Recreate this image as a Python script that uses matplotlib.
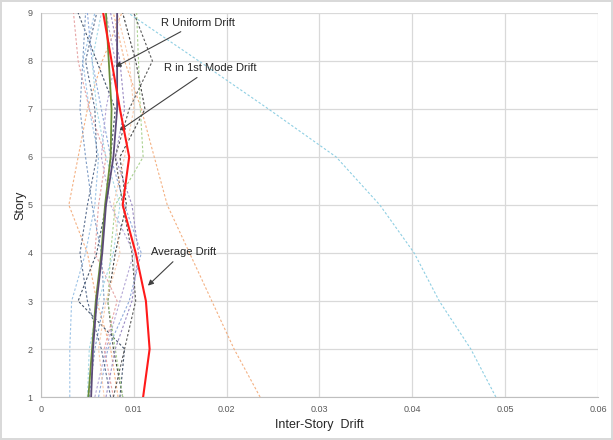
import matplotlib
matplotlib.use("Agg")
import matplotlib.pyplot as plt

stories = [1, 2, 3, 4, 5, 6, 7, 8, 9]

# Individual ground-motion drifts (dashed), stories 1..9
gm_colors = ["#9DC3E6", "#F4B183", "#F4B183", "#8FCFE3", "#404040", "#44546A",
             "#8EA9DB", "#B4A7D6", "#A9D18E", "#E6A3A3", "#7F9CC5", "#5A6E8F",
             "#A5D8E6", "#9B8BC4", "#595959", "#F8CBAD"]
gm_drifts = [
    [0.0031, 0.0031, 0.0033, 0.0048, 0.0058, 0.0062, 0.0052, 0.0045, 0.0058],
    [0.0083, 0.0075, 0.0060, 0.0050, 0.0030, 0.0040, 0.0050, 0.0066, 0.0087],
    [0.0236, 0.0208, 0.0184, 0.0160, 0.0136, 0.0122, 0.0108, 0.0090, 0.0078],
    [0.0490, 0.0463, 0.0429, 0.0402, 0.0365, 0.0318, 0.0245, 0.0170, 0.0094],
    [0.0088, 0.0078, 0.0072, 0.0080, 0.0092, 0.0085, 0.0112, 0.0102, 0.0088],
    [0.0085, 0.0090, 0.0040, 0.0060, 0.0070, 0.0075, 0.0080, 0.0060, 0.0040],
    [0.0062, 0.0072, 0.0095, 0.0108, 0.0090, 0.0075, 0.0065, 0.0055, 0.0050],
    [0.0058, 0.0070, 0.0085, 0.0100, 0.0075, 0.0065, 0.0070, 0.0080, 0.0070],
    [0.0088, 0.0080, 0.0072, 0.0075, 0.0080, 0.0110, 0.0107, 0.0105, 0.0103],
    [0.0078, 0.0068, 0.0082, 0.0058, 0.0062, 0.0070, 0.0052, 0.0040, 0.0035],
    [0.0052, 0.0058, 0.0068, 0.0065, 0.0055, 0.0048, 0.0042, 0.0045, 0.0048],
    [0.0075, 0.0065, 0.0050, 0.0042, 0.0050, 0.0060, 0.0058, 0.0048, 0.0060],
    [0.0050, 0.0052, 0.0062, 0.0078, 0.0085, 0.0070, 0.0060, 0.0055, 0.0065],
    [0.0070, 0.0080, 0.0098, 0.0105, 0.0098, 0.0080, 0.0090, 0.0085, 0.0075],
    [0.0078, 0.0090, 0.0102, 0.0098, 0.0088, 0.0080, 0.0095, 0.0120, 0.0100],
    [0.0068, 0.0062, 0.0070, 0.0085, 0.0078, 0.0090, 0.0100, 0.0095, 0.0082],
]

average_drift = [0.0110, 0.0117, 0.0113, 0.0102, 0.0088, 0.0095, 0.0085, 0.0076, 0.0067]
r_uniform = [0.0051, 0.0055, 0.0059, 0.0065, 0.0069, 0.0075, 0.0076, 0.0073, 0.0070]
r_first_mode = [0.0054, 0.0056, 0.0060, 0.0066, 0.0070, 0.0078, 0.0082, 0.0082, 0.0082]

x_ticks = [0, 0.01, 0.02, 0.03, 0.04, 0.05, 0.06]
x_tick_labels = ["0", "0.01", "0.02", "0.03", "0.04", "0.05", "0.06"]

plt.rcParams['font.family'] = ['Liberation Sans', 'DejaVu Sans']

fig = plt.figure(figsize=(6.13, 4.40), dpi=100)
fig.patch.set_edgecolor("#D9D9D9")
fig.patch.set_linewidth(1.5)
ax = fig.add_axes([0.0669, 0.0977, 0.9086, 0.8728])

for c, d in zip(gm_colors, gm_drifts):
    ax.plot(d, stories, color=c, lw=0.8, ls=(0, (2.2, 1.8)), zorder=2)

ax.plot(r_uniform, stories, color="#6B8E3A", lw=1.3, zorder=3)
ax.plot(r_first_mode, stories, color="#5C4A78", lw=1.3, zorder=3)
ax.plot(average_drift, stories, color="#FF1A1A", lw=1.5, zorder=4)

ax.set_xlim(0, 0.06)
ax.set_ylim(1, 9)
ax.set_xticks(x_ticks)
ax.set_xticklabels(x_tick_labels)
ax.set_yticks(stories)
ax.grid(True, color="#D9D9D9", lw=0.9)
ax.set_axisbelow(True)
for s in ["top", "right"]:
    ax.spines[s].set_visible(False)
for s in ["left", "bottom"]:
    ax.spines[s].set_color("#BFBFBF")
ax.tick_params(length=0, labelsize=6.5, colors="#595959", pad=6)

ax.set_xlabel("Inter-Story  Drift", fontsize=9, color="#262626", labelpad=3)
ax.set_ylabel("Story", fontsize=9, color="#262626", labelpad=1)

arrow = dict(arrowstyle="-|>", color="#404040", lw=0.8, mutation_scale=8)
ax.annotate("R Uniform Drift", xy=(0.00775, 7.85), xytext=(0.0129, 8.8),
            fontsize=8, color="#262626", arrowprops=arrow, va="center", ha="left")
ax.annotate("R in 1st Mode Drift", xy=(0.0082, 6.52), xytext=(0.0133, 7.85),
            fontsize=8, color="#262626", arrowprops=arrow, va="center", ha="left")
ax.annotate("Average Drift", xy=(0.0113, 3.28), xytext=(0.0118, 4.02),
            fontsize=8, color="#262626", arrowprops=arrow, va="center", ha="left")

fig.savefig("out.png", dpi=100, edgecolor=fig.get_edgecolor())
